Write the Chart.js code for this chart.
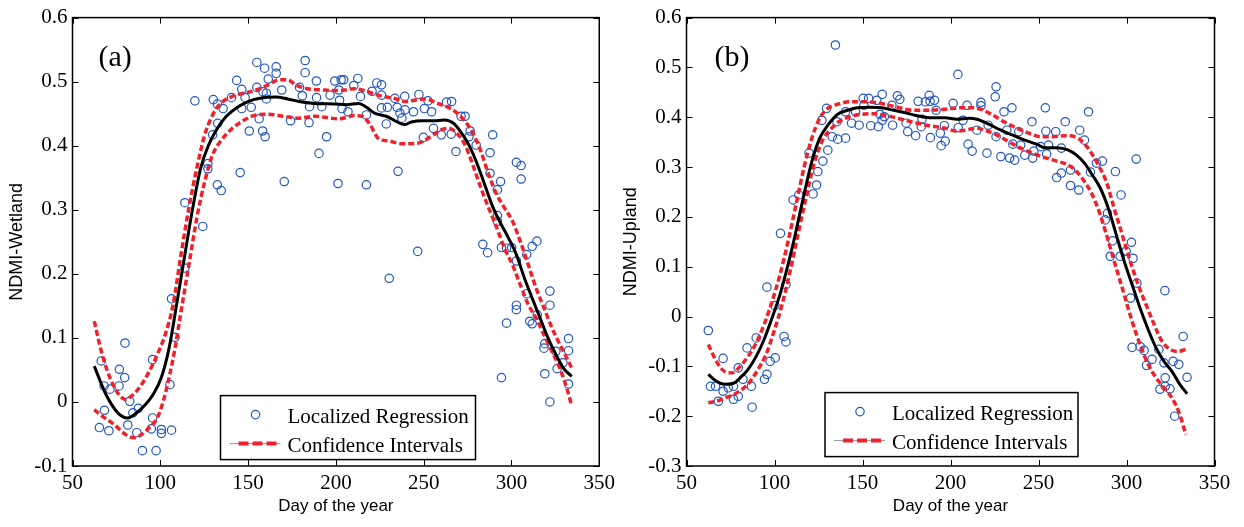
<!DOCTYPE html>
<html>
<head>
<meta charset="utf-8">
<script src="https://cdn.jsdelivr.net/npm/chart.js@4.4.0/dist/chart.umd.min.js"></script>
<style>
  body { margin: 0; background: #fff; }
  #wrap { position: relative; width: 1244px; height: 527px; }
  canvas { position: absolute; top: 0; }
  #wet { left: 0; }
  #up { left: 620px; }
</style>
</head>
<body>
<div id="wrap">
  <canvas id="wet" width="620" height="527"></canvas>
  <canvas id="up" width="624" height="527"></canvas>
</div>
<script>
// ---- panel (a): wetland observations ----
const wetDay = [66.4, 68, 68.2, 65.3, 71.3, 70.7, 76.7, 76.5, 79.9, 79.7,
    81.5, 82.6, 84.4, 86.6, 87.5, 89.8, 94.9, 95.6, 95.6, 97.6,
    100.6, 100.6, 106.4, 105.5, 106.4, 108.4, 114, 114, 124.2, 119.7,
    127.1, 127.1, 130.2, 129.8, 132.5, 132.7, 132.5, 134.7, 135.8, 140.6,
    143.5, 145.5, 146.4, 146.4, 148.3, 150.7, 151.8, 155, 155, 156.3,
    158.3, 159.7, 159.4, 158.5, 160.4, 160.4, 161.5, 166, 166, 169.2,
    170.6, 174.2, 179.3, 180.9, 182.5, 182.5, 185, 184.7, 188.9, 189,
    190.4, 192, 194.7, 196.7, 199.4, 201.2, 201.7, 202.1, 203, 204.4,
    203.5, 206.9, 210.2, 212.5, 214, 217.4, 217.4, 220.6, 223.3, 226,
    226, 226, 228.7, 229.3, 230.4, 233.6, 235.4, 234.9, 236.5, 237.6,
    239.2, 239.4, 244.2, 246.6, 247.3, 249.8, 250.4, 252.5, 254.5, 255.6,
    263, 265.9, 260.1, 265.7, 268.4, 271.3, 273.6, 276.5, 275.8, 279.9,
    283.7, 286.4, 287.8, 287.8, 289.3, 292, 292, 293.8, 292, 294.3,
    294.3, 297.2, 297.2, 300.1, 302.8, 302.8, 302.8, 302.8, 305.5, 305.5,
    308.7, 308.7, 310.4, 311.8, 311.8, 314.5, 314.7, 318.5, 319, 319,
    321.9, 321.9, 321.9, 325.3, 326, 329.3, 332.5, 332.5, 332.5];
const wetNdmi = [0.064, 0.025, -0.013, -0.040, 0.020, -0.045, 0.051, 0.025, 0.092, 0.038,
    -0.036, 0.001, -0.017, -0.048, -0.010, -0.076, -0.042, -0.025, 0.066, -0.076,
    -0.043, -0.049, -0.044, 0.027, 0.161, 0.101, 0.209, 0.311, 0.274, 0.470,
    0.372, 0.364, 0.472, 0.417, 0.465, 0.435, 0.339, 0.330, 0.458, 0.475,
    0.502, 0.358, 0.488, 0.458, 0.475, 0.423, 0.460, 0.530, 0.491, 0.442,
    0.423, 0.414, 0.521, 0.484, 0.482, 0.473, 0.504, 0.523, 0.513, 0.487,
    0.344, 0.439, 0.491, 0.478, 0.533, 0.514, 0.461, 0.436, 0.501, 0.475,
    0.388, 0.461, 0.414, 0.479, 0.501, 0.341, 0.487, 0.471, 0.503, 0.503,
    0.458, 0.453, 0.494, 0.505, 0.477, 0.339, 0.448, 0.485, 0.498, 0.495,
    0.479, 0.459, 0.434, 0.460, 0.193, 0.474, 0.360, 0.460, 0.451, 0.443,
    0.477, 0.456, 0.453, 0.235, 0.480, 0.413, 0.458, 0.470, 0.453, 0.427,
    0.468, 0.469, 0.417, 0.418, 0.391, 0.446, 0.446, 0.423, 0.414, 0.401,
    0.246, 0.233, 0.389, 0.357, 0.417, 0.331, 0.282, 0.344, 0.291, 0.241,
    0.038, 0.123, 0.240, 0.241, 0.374, 0.220, 0.151, 0.144, 0.369, 0.348,
    0.230, 0.169, 0.126, 0.122, 0.243, 0.251, 0.136, 0.084, 0.091, 0.044,
    0.173, 0.151, 0.000, 0.079, 0.052, 0.061, 0.099, 0.080, 0.028];

// regression curve and its confidence band (a)
const wetFitDay = [62.4, 69, 75.8, 81.5, 86, 91.6, 96, 100.6, 105, 109.6,
    114, 118.5, 123, 127.5, 132, 137.6, 143.3, 150, 156.7, 165.7,
    172.5, 179, 188, 199.4, 206, 213, 217.4, 222, 228.7, 233,
    239, 243, 249, 255.6, 262, 267, 271, 275.8, 280, 284.8,
    289.3, 293.8, 298.3, 302.8, 307.3, 311.8, 316.3, 320.8, 325.3, 329.8, 334.3];
const wetFit = [0.056, 0.012, -0.017, -0.025, -0.018, -0.004, 0.012, 0.038, 0.084, 0.157,
    0.230, 0.303, 0.365, 0.401, 0.425, 0.446, 0.459, 0.469, 0.474, 0.476,
    0.473, 0.469, 0.466, 0.465, 0.464, 0.466, 0.460, 0.451, 0.446, 0.440,
    0.433, 0.437, 0.439, 0.439, 0.440, 0.435, 0.422, 0.401, 0.375, 0.339,
    0.305, 0.279, 0.256, 0.230, 0.194, 0.162, 0.131, 0.100, 0.074, 0.052, 0.040];
const wetHiDay = [62.4, 66.9, 71.3, 75.8, 80, 84.8, 89.3, 93.8, 98.3, 102.8,
    107.3, 111.8, 116.3, 120.8, 125.3, 129.8, 134.3, 141, 147.8, 154.6,
    161.4, 168, 172.5, 177, 183.7, 192.7, 201.7, 210.6, 217.4, 224,
    233, 240, 246.6, 251, 257.9, 264.6, 269, 273.6, 278, 282.6,
    287, 291.6, 296, 300.6, 305, 309.6, 314, 318.5, 323, 327.5, 332, 334.3];
const wetHi = [0.126, 0.074, 0.038, 0.014, 0.004, 0.012, 0.027, 0.048, 0.074, 0.105,
    0.152, 0.230, 0.303, 0.365, 0.417, 0.448, 0.466, 0.477, 0.482, 0.487,
    0.495, 0.503, 0.503, 0.495, 0.489, 0.487, 0.486, 0.489, 0.485, 0.479,
    0.474, 0.469, 0.472, 0.473, 0.466, 0.459, 0.451, 0.438, 0.420, 0.391,
    0.355, 0.324, 0.303, 0.282, 0.251, 0.214, 0.178, 0.147, 0.116, 0.090, 0.066, 0.053];
const wetLoDay = [62.4, 66.9, 73.6, 80.3, 84.8, 89.3, 93.8, 98.3, 101.7, 105,
    108.4, 111.8, 116.3, 120.8, 125.3, 129.8, 134.3, 141, 147.8, 154.6,
    161.4, 170.2, 179, 188, 197.2, 201.7, 210.6, 215, 219.5, 224,
    230.9, 237.6, 246.6, 251, 255.6, 260.1, 264.6, 269, 273.6, 278,
    282.6, 287, 291.6, 296, 300.6, 305, 309.6, 314, 318.5, 323, 327.5, 332, 334.3];
const wetLo = [-0.012, -0.022, -0.035, -0.051, -0.056, -0.051, -0.040, -0.025, 0.001, 0.038,
    0.084, 0.141, 0.214, 0.287, 0.344, 0.386, 0.407, 0.427, 0.440, 0.448,
    0.449, 0.446, 0.443, 0.446, 0.443, 0.442, 0.447, 0.446, 0.433, 0.412,
    0.407, 0.403, 0.404, 0.409, 0.417, 0.425, 0.427, 0.419, 0.401, 0.370,
    0.334, 0.303, 0.272, 0.240, 0.214, 0.183, 0.152, 0.131, 0.105, 0.079, 0.053, 0.017, -0.006];

// ---- panel (b): upland observations ----
const upDay = [62.4, 63.6, 66.5, 68.1, 70.8, 70.8, 73.7, 76.7, 76.7, 79.4,
    79.4, 82.1, 84.4, 87.3, 86.9, 89.6, 94.3, 95.7, 95.7, 97.5,
    100.4, 100.2, 103.4, 105.4, 106.5, 106.5, 110.6, 113.8, 119.6, 121.9,
    123.9, 124.6, 127.5, 126.9, 129.6, 130.3, 132.8, 134.6, 135.5, 135.9,
    140.4, 140.4, 143.8, 146.1, 148.1, 150.4, 150.8, 153.5, 154.7, 158.1,
    159, 159.9, 161.2, 161.2, 162.4, 167.1, 166.7, 169.8, 171.2, 174.8,
    175.7, 180.2, 181.6, 183.4, 183.8, 185.7, 187.9, 188.4, 190.9, 188.6,
    191.8, 194.2, 194.7, 197, 196.5, 201.5, 204.2, 204.4, 207.1, 209.4,
    210, 212.3, 215, 217.3, 217.3, 220.7, 221.4, 225.4, 225.9, 225.9,
    228.6, 230.4, 232, 233.6, 234.9, 235.4, 236.5, 238.8, 239.9, 242.2,
    246.3, 247.4, 246.7, 251.2, 253.9, 254.2, 254.6, 255.7, 259.8, 260.3,
    263, 263, 265.2, 268.2, 268.2, 272.9, 273.4, 276.1, 278.4, 279.5,
    282.9, 286.3, 287.9, 289.2, 292.1, 290.8, 293.7, 296.9, 296.4, 299.8,
    302.3, 302.8, 303.2, 303.7, 305.5, 305.9, 307.7, 310, 311.4, 314.5,
    318.4, 319, 321.3, 321.8, 322, 322, 324.7, 326.5, 327.4, 329.7,
    332.2, 334.4];
const upNdmi = [-0.028, -0.140, -0.140, -0.170, -0.084, -0.150, -0.143, -0.166, -0.140, -0.103,
    -0.160, -0.126, -0.063, -0.182, -0.140, -0.043, -0.126, -0.116, 0.059, -0.090,
    -0.083, 0.022, 0.167, -0.040, -0.051, 0.064, 0.234, 0.244, 0.328, 0.246,
    0.264, 0.291, 0.312, 0.394, 0.418, 0.334, 0.361, 0.545, 0.391, 0.356,
    0.358, 0.411, 0.388, 0.411, 0.384, 0.438, 0.424, 0.438, 0.383, 0.434,
    0.381, 0.406, 0.446, 0.394, 0.401, 0.384, 0.424, 0.443, 0.436, 0.388,
    0.371, 0.363, 0.432, 0.381, 0.396, 0.431, 0.444, 0.432, 0.434, 0.359,
    0.414, 0.368, 0.343, 0.352, 0.383, 0.428, 0.486, 0.379, 0.394, 0.424,
    0.346, 0.332, 0.374, 0.430, 0.423, 0.328, 0.384, 0.441, 0.461, 0.361,
    0.321, 0.411, 0.374, 0.318, 0.419, 0.346, 0.314, 0.371, 0.344, 0.324,
    0.391, 0.332, 0.318, 0.341, 0.419, 0.372, 0.326, 0.344, 0.371, 0.279,
    0.288, 0.338, 0.391, 0.294, 0.263, 0.254, 0.374, 0.354, 0.411, 0.290,
    0.308, 0.312, 0.194, 0.207, 0.152, 0.121, 0.291, 0.244, 0.121, 0.131,
    0.037, 0.149, -0.062, 0.117, 0.316, 0.067, -0.060, -0.068, -0.098, -0.086,
    -0.066, -0.146, -0.093, 0.052, -0.123, -0.140, -0.145, -0.090, -0.200, -0.096,
    -0.040, -0.122];

// regression curve and its confidence band (b)
const upFitDay = [62.4, 67, 71.5, 76, 80.5, 85, 89.6, 94.1, 98.6, 103.1,
    107.7, 112.2, 116.7, 121.2, 125.7, 130.3, 135.9, 141.6, 147.2, 154,
    160.8, 167.6, 174.3, 181.1, 187.9, 197, 203.7, 210.5, 215, 221.8,
    228.6, 235.4, 242.2, 249, 253.5, 260.3, 267, 271.6, 276.1, 280.6,
    285.1, 289.7, 294.2, 298.7, 303.2, 307.7, 312.3, 316.8, 321.3, 325.8, 330.3, 334.4];
const upFit = [-0.116, -0.130, -0.136, -0.135, -0.123, -0.106, -0.080, -0.046, -0.003, 0.044,
    0.104, 0.171, 0.244, 0.311, 0.358, 0.384, 0.406, 0.414, 0.419, 0.420,
    0.419, 0.414, 0.409, 0.403, 0.399, 0.399, 0.396, 0.398, 0.396, 0.386,
    0.374, 0.364, 0.354, 0.346, 0.339, 0.339, 0.334, 0.324, 0.308, 0.284,
    0.258, 0.217, 0.164, 0.111, 0.064, 0.017, -0.026, -0.063, -0.090, -0.110, -0.136, -0.155];
const upHiDay = [62.4, 67, 71.5, 76, 80.5, 85, 89.6, 94.1, 98.6, 103.1,
    107.7, 112.2, 116.7, 121.2, 125.7, 130.3, 135.9, 142.7, 149.5, 156.3,
    163, 169.8, 178.9, 187.9, 197, 206, 212.8, 217.3, 224.1, 230.9,
    237.7, 244.5, 251.2, 258, 264.8, 270.4, 275, 279.5, 284, 288.5,
    293, 297.6, 302.1, 306.6, 311.1, 315.7, 320.2, 324.7, 329.2, 333.7];
const upHi = [-0.056, -0.090, -0.110, -0.113, -0.100, -0.080, -0.053, -0.016, 0.030, 0.084,
    0.151, 0.224, 0.298, 0.358, 0.398, 0.418, 0.426, 0.431, 0.431, 0.430,
    0.426, 0.420, 0.414, 0.414, 0.416, 0.419, 0.419, 0.416, 0.404, 0.390,
    0.378, 0.368, 0.361, 0.361, 0.363, 0.361, 0.351, 0.331, 0.304, 0.271,
    0.217, 0.164, 0.111, 0.064, 0.024, -0.016, -0.050, -0.066, -0.070, -0.066];
const upLoDay = [62.4, 67, 71.5, 77.1, 81.7, 86.2, 90.7, 95.2, 99.7, 104.3,
    108.8, 113.3, 117.8, 122.3, 126.9, 131.4, 137, 142.7, 149.5, 156.3,
    163, 169.8, 178.9, 187.9, 197, 203.7, 208.3, 215, 219.6, 226.4,
    233.1, 239.9, 246.7, 253.5, 260.3, 267, 271.6, 276.1, 280.6, 285.1,
    289.7, 294.2, 298.7, 303.2, 307.7, 312.3, 316.8, 321.3, 325.8, 330.3, 333.7];
const upLo = [-0.173, -0.170, -0.164, -0.156, -0.146, -0.130, -0.106, -0.076, -0.030, 0.024,
    0.090, 0.164, 0.237, 0.304, 0.351, 0.374, 0.392, 0.401, 0.406, 0.407,
    0.404, 0.398, 0.390, 0.383, 0.378, 0.372, 0.374, 0.378, 0.374, 0.364,
    0.351, 0.338, 0.328, 0.319, 0.312, 0.304, 0.291, 0.271, 0.244, 0.204,
    0.151, 0.097, 0.044, -0.010, -0.056, -0.096, -0.123, -0.143, -0.163, -0.197, -0.237];

const dayTicks = { min: 50, max: 350, step: 50 };
const legendLabels = ['Localized Regression', 'Confidence Intervals'];

const BLUE = '#2457bf';
const RED = '#f0212b';
const SERIF = '"Liberation Serif", "Times New Roman", serif';
const SANS = '"Liberation Sans", Arial, sans-serif';

const pts = (xs, ys) => xs.map((x, i) => ({ x, y: ys[i] }));

// frame, inward ticks, panel letter and the boxed legend (MATLAB look)
const panelDecor = {
    id: 'panelDecor',
    afterDatasetsDraw(chart, args, o) {
        const { ctx, chartArea: a } = chart;
        const sx = chart.scales.x, sy = chart.scales.y;
        ctx.save();
        ctx.strokeStyle = '#000';
        ctx.lineWidth = 1;
        ctx.beginPath();
        sx.ticks.forEach(t => {
            const px = Math.round(sx.getPixelForValue(t.value)) + 0.5;
            ctx.moveTo(px, a.top); ctx.lineTo(px, a.top + 6);
            ctx.moveTo(px, a.bottom); ctx.lineTo(px, a.bottom - 6);
        });
        sy.ticks.forEach(t => {
            const py = Math.round(sy.getPixelForValue(t.value)) + 0.5;
            ctx.moveTo(a.left, py); ctx.lineTo(a.left + 6, py);
            ctx.moveTo(a.right, py); ctx.lineTo(a.right - 6, py);
        });
        ctx.stroke();
        ctx.lineWidth = 1.5;
        ctx.strokeRect(a.left, a.top, a.width, a.height);

        ctx.fillStyle = '#000';
        ctx.font = '30px ' + SERIF;
        ctx.textBaseline = 'alphabetic';
        ctx.fillText(o.label, a.left + o.labelDx, a.top + 48);

        // legend box
        const lx = a.left + o.legendDx, ly = a.top + o.legendDy;
        ctx.fillStyle = '#fff';
        ctx.fillRect(lx, ly, o.legendW, 64);
        ctx.lineWidth = 1.5;
        ctx.strokeStyle = '#000';
        ctx.strokeRect(lx, ly, o.legendW, 64);

        ctx.strokeStyle = BLUE;
        ctx.lineWidth = 1.2;
        ctx.beginPath();
        ctx.arc(lx + 35, ly + 19, 4.2, 0, Math.PI * 2);
        ctx.stroke();

        ctx.strokeStyle = '#777';
        ctx.lineWidth = 0.8;
        ctx.beginPath();
        ctx.moveTo(lx + 9, ly + 48); ctx.lineTo(lx + 60, ly + 48);
        ctx.stroke();
        ctx.strokeStyle = RED;
        ctx.lineWidth = 4;
        ctx.setLineDash([10, 4]);
        ctx.beginPath();
        ctx.moveTo(lx + 18, ly + 48); ctx.lineTo(lx + 60, ly + 48);
        ctx.stroke();
        ctx.setLineDash([]);

        ctx.fillStyle = '#000';
        ctx.font = '21px ' + SERIF;
        ctx.fillText(legendLabels[0], lx + 67, ly + 27);
        ctx.fillText(legendLabels[1], lx + 67, ly + 56);
        ctx.restore();
    }
};

function makePanel(id, p) {
    const curve = (data, color, dash, width) => ({
        type: 'scatter', data, showLine: true, borderColor: color, borderWidth: width,
        borderDash: dash, pointRadius: 0, cubicInterpolationMode: 'monotone', fill: false
    });
    new Chart(document.getElementById(id), {
        type: 'scatter',
        data: {
            datasets: [
                curve(pts(p.fitDay, p.fit), '#000', [], 3),
                curve(pts(p.hiDay, p.hi), RED, [6, 3], 3.5),
                curve(pts(p.loDay, p.lo), RED, [6, 3], 3.5),
                {
                    data: pts(p.day, p.ndmi), pointRadius: 4.2, pointBorderWidth: 1.2,
                    pointBackgroundColor: 'rgba(0,0,0,0)', pointBorderColor: BLUE, showLine: false
                }
            ]
        },
        options: {
            responsive: false,
            animation: false,
            events: [],
            layout: { padding: { top: 16, right: p.padRight, bottom: 0, left: 0 } },
            scales: {
                x: {
                    type: 'linear', min: dayTicks.min, max: dayTicks.max,
                    grid: { display: false, drawTicks: false },
                    border: { display: false },
                    ticks: { stepSize: dayTicks.step, padding: 5, color: '#000', font: { family: SERIF, size: 21 } },
                    title: { display: true, text: 'Day of the year', color: '#000',
                        font: { family: SANS, size: 17 }, padding: { top: 0, bottom: 10 } },
                    afterFit: s => { s.height = 61; }
                },
                y: {
                    min: p.yMin, max: p.yMax,
                    grid: { display: false, drawTicks: false },
                    border: { display: false },
                    ticks: {
                        stepSize: 0.1, padding: 5, color: '#000', font: { family: SERIF, size: 21 },
                        callback: v => { const r = Math.round(v * 10) / 10; return r === 0 ? '0' : String(r); }
                    },
                    title: { display: true, text: p.yTitle, color: '#000',
                        font: { family: SANS, size: 18 }, padding: { top: p.titlePad, bottom: 0 } },
                    afterFit: s => { s.width = p.yWidth; }
                }
            },
            plugins: {
                legend: { display: false },
                tooltip: { enabled: false },
                panelDecor: p.decor
            }
        },
        plugins: [panelDecor]
    });
}

makePanel('wet', {
    day: wetDay, ndmi: wetNdmi,
    fitDay: wetFitDay, fit: wetFit, hiDay: wetHiDay, hi: wetHi, loDay: wetLoDay, lo: wetLo,
    yMin: -0.1, yMax: 0.6, yTitle: 'NDMI-Wetland', yWidth: 72.5, padRight: 16, titlePad: 6,
    decor: { label: '(a)', labelDx: 26, legendDx: 148, legendDy: 378, legendW: 255 }
});

makePanel('up', {
    day: upDay, ndmi: upNdmi,
    fitDay: upFitDay, fit: upFit, hiDay: upHiDay, hi: upHi, loDay: upLoDay, lo: upLo,
    yMin: -0.3, yMax: 0.6, yTitle: 'NDMI-Upland', yWidth: 66.5, padRight: 29.5, titlePad: 0.5,
    decor: { label: '(b)', labelDx: 28, legendDx: 138.5, legendDy: 375, legendW: 253 }
});
</script>
</body>
</html>
